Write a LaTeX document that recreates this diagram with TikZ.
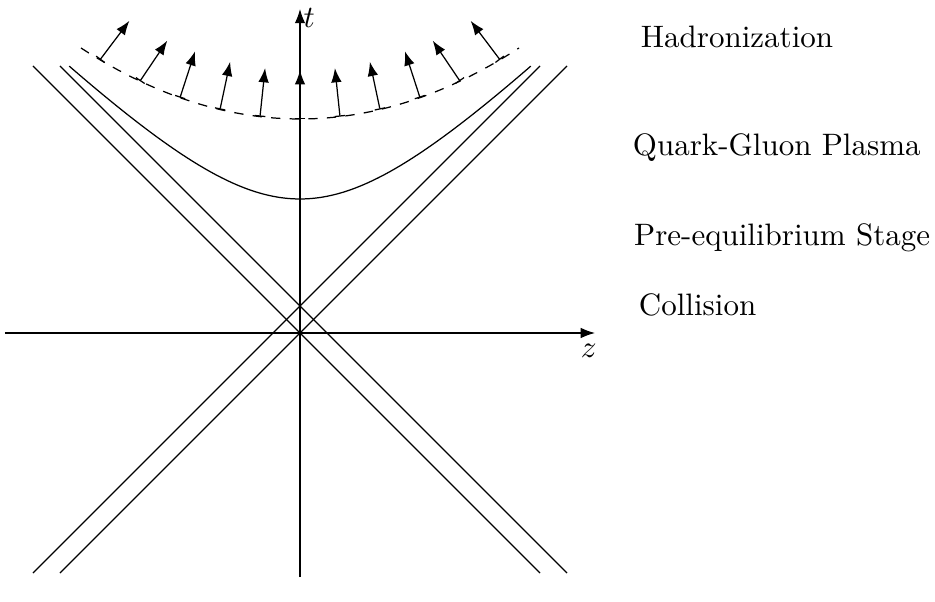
\documentclass[tikz,border=0pt]{standalone}
\usetikzlibrary{arrows.meta}

\begin{document}
\begin{tikzpicture}[scale=0.4535]
    \useasboundingbox (-7.5,-6.725) rectangle (15.875,8.325);
    % axes
    \draw[-{Latex[length=4.6pt,width=3.4pt]}] (-7.375,0) -- (7.375,0) node[below, xshift=-2pt] (zlab) {$z$};
    \draw[-{Latex[length=4.6pt,width=3.4pt]}] (0,-6.1) -- (0,8.1) node[right, inner sep=1pt, yshift=-3pt] (tlab) {$t$};
    % light cone of the collision and of the shifted vertex
    \draw (-6,-6) -- (6.675,6.675);
    \draw (-6.675,-6) -- (6,6.675);
    \draw (6,-6) -- (-6.675,6.675);
    \draw (6.675,-6) -- (-6,6.675);
    % proper time hyperbola: end of pre-equilibrium
    \draw plot[domain=-5.77:5.77, samples=80] (\x, {sqrt(3.35*3.35+\x*\x)});
    % freeze-out surface
    \draw[dashed] plot[domain=-5.475:5.475, samples=60] (\x, {5.35+0.0592*\x*\x});
    \foreach \z/\a in {-5/53,-4/56,-3/72,-2/78,-1/84,0/90,1/96,2/102,3/108,4/124,5/127}
      \draw[{Bar[width=3.4pt]}-{Latex[length=4.6pt,width=3.4pt]}] (\z,{5.35+0.0592*\z*\z}) -- ++(\a:1.22);
    % stages
    \node[anchor=base west] (hadr) at (8.25,7.13) {Hadronization};
    \node[anchor=base west] (qgp) at (8.05,4.43) {Quark-Gluon Plasma};
    \node[anchor=base west] (preq) at (8.08,2.18) {Pre-equilibrium Stage};
    \node[anchor=base west] (coll) at (8.2,0.43) {Collision};
  \end{tikzpicture}
\end{document}
